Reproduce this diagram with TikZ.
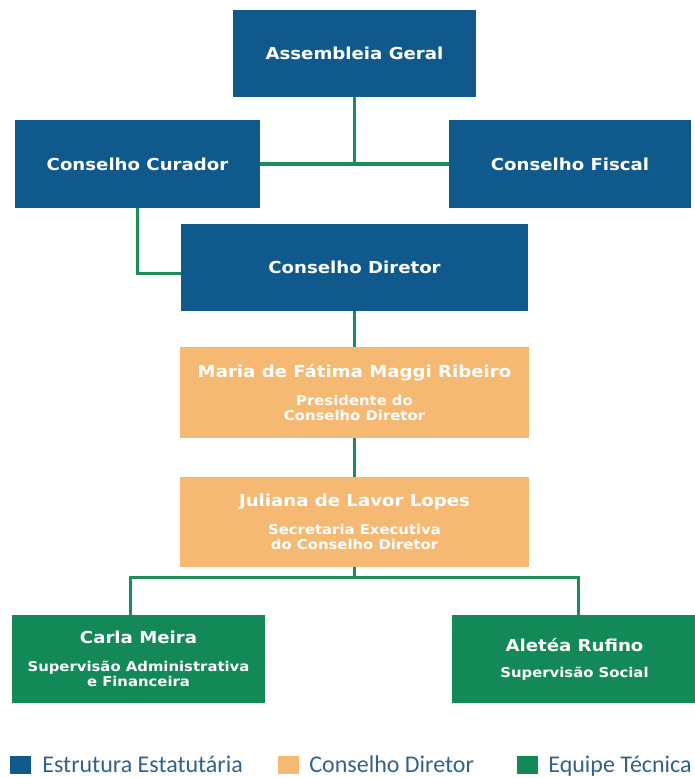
\documentclass[tikz,border=0pt]{standalone}
\usepackage{fontspec}
\usetikzlibrary{positioning}
\newfontfamily\boxfont{DejaVu Sans}[FakeStretch=1.1]
\newfontfamily\legfont{Carlito}
\definecolor{orgBlue}{RGB}{16,89,140}
\definecolor{orgOrange}{RGB}{246,185,115}
\definecolor{orgGreen}{RGB}{19,137,88}
\definecolor{lineGreen}{RGB}{28,140,88}
\definecolor{legendText}{RGB}{50,98,138}
\newcommand{\nameSize}{\fontsize{16.5}{19}\selectfont}
\newcommand{\roleSize}{\fontsize{13.5}{16}\selectfont}

\begin{document}
\begin{tikzpicture}[x=1pt, y=-1pt,
  unitbox/.style={rectangle, inner sep=0pt, align=center, text=white, font=\boxfont\bfseries\nameSize},
  bluebox/.style={unitbox, fill=orgBlue},
  orangebox/.style={unitbox, fill=orgOrange},
  greenbox/.style={unitbox, fill=orgGreen},
  link/.style={draw=lineGreen, line width=3.2pt},
  legsq/.style={rectangle, inner sep=0pt, minimum width=21pt, minimum height=18pt},
  legtxt/.style={inner sep=0pt, text height=15pt, text depth=0pt, text=legendText, font=\legfont\fontsize{24}{28}\selectfont}]
\useasboundingbox (0,0) rectangle (694,778);
\fill[white] (0,0) rectangle (694,778);

% estrutura estatutaria
\node[bluebox, minimum width=243pt, minimum height=87pt] (ag) at (354.5,53.5) {Assembleia Geral};
\node[bluebox, minimum width=245pt, minimum height=88pt] (cur) at (137.5,164) {Conselho Curador};
\node[bluebox, minimum width=242pt, minimum height=88pt] (fis) at (570,164) {Conselho Fiscal};
\node[bluebox, minimum width=347pt, minimum height=87pt] (dir) at (354.5,267.5) {Conselho Diretor};

% conselho diretor
\node[orangebox, minimum width=349pt, minimum height=91pt] (maria) at (354.5,392.5)
  {Maria de Fátima Maggi Ribeiro\\[9pt]\roleSize Presidente do\\[-4pt]\roleSize Conselho Diretor};
\node[orangebox, minimum width=349pt, minimum height=90pt] (jul) at (354.5,522)
  {Juliana de Lavor Lopes\\[9pt]\roleSize Secretaria Executiva\\[-4pt]\roleSize do Conselho Diretor};

% equipe tecnica
\node[greenbox, minimum width=253pt, minimum height=88pt] (carla) at (138.5,659)
  {Carla Meira\\[9pt]\roleSize Supervisão Administrativa\\[-4pt]\roleSize e Financeira};
\node[greenbox, minimum width=245pt, minimum height=88pt] (alet) at (574.5,659)
  {Aletéa Rufino\\[7pt]\roleSize Supervisão Social};

\coordinate[below=10pt of jul] (split);

\draw[link] (ag.south) -- (ag.south |- cur.east);
\draw[link] (cur.east) -- (fis.west);
\draw[link] (cur.south) |- ([yshift=-6pt]dir.west);
\draw[link] (dir) -- (maria);
\draw[link] (maria) -- (jul);
\draw[link] (jul) -- (split);
\draw[link] ([xshift=-8pt]carla.north) |- (split) -| ([xshift=4pt]alet.north);

% legenda
\node[legsq, fill=orgBlue] (lsq1) at (20.5,764.5) {};
\node[legtxt, right=11pt of lsq1] (ltx1) {Estrutura Estatutária};
\node[legsq, fill=orgOrange] (lsq2) at (288.5,764.5) {};
\node[legtxt, right=10pt of lsq2] (ltx2) {Conselho Diretor};
\node[legsq, fill=orgGreen] (lsq3) at (527.5,764.5) {};
\node[legtxt, right=10pt of lsq3] (ltx3) {Equipe Técnica};
\end{tikzpicture}
\end{document}
